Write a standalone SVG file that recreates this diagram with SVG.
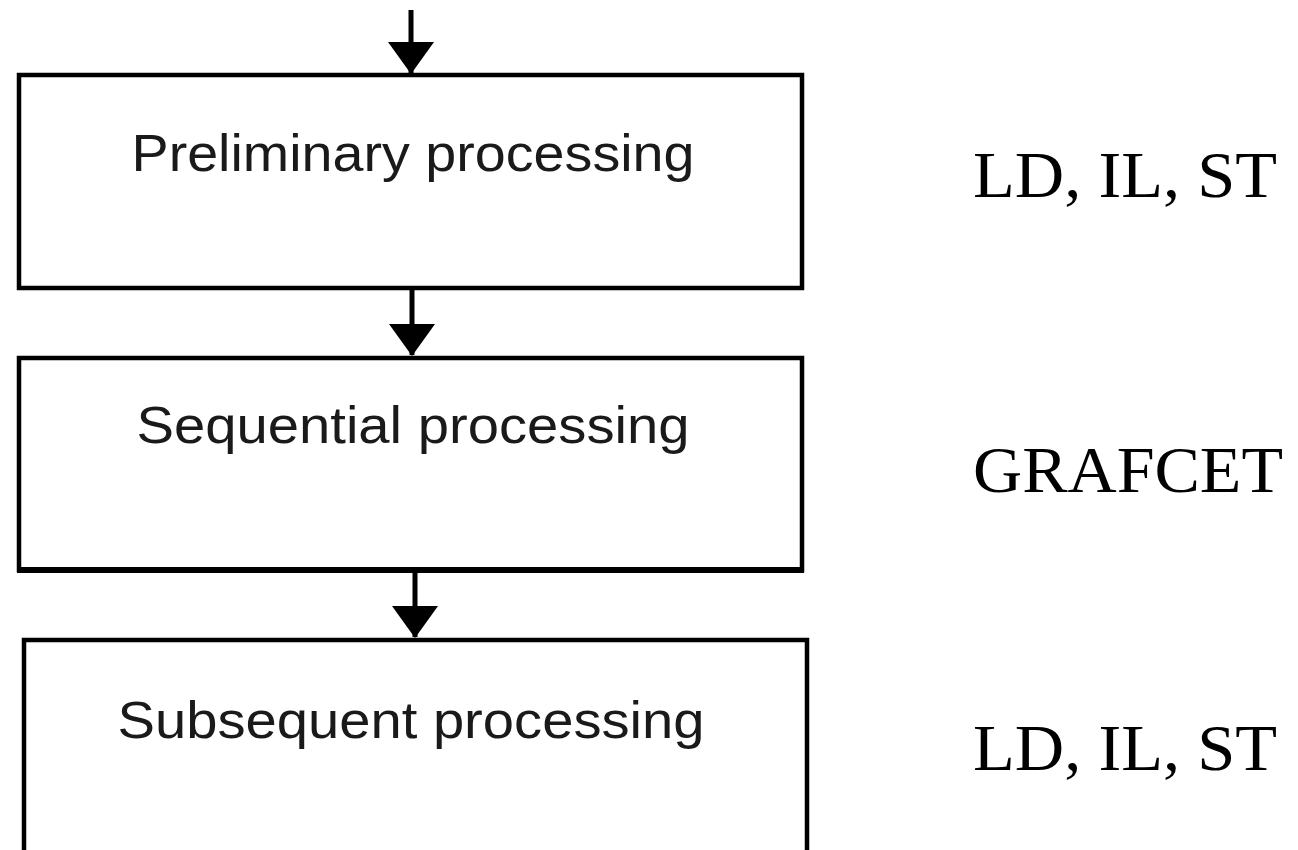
<svg xmlns="http://www.w3.org/2000/svg" width="1298" height="850" viewBox="0 0 1298 850">
<style>
.box{fill:#fff;stroke:#000;stroke-width:4.5}
.lbl{font-family:"Liberation Sans",Arial,sans-serif;font-size:52px;fill:#1a1a1a;text-anchor:middle}
.lang{font-family:"Liberation Serif","Times New Roman",serif;font-size:66px;fill:#000}
.con{stroke:#000;stroke-width:5;fill:none}
</style>
<defs>
<marker id="arr" markerUnits="userSpaceOnUse" markerWidth="32" markerHeight="46" refX="31" refY="23" orient="auto" viewBox="0 0 32 46">
<path d="M0,0 L32,23 L0,46 Z" fill="#000"/>
</marker>
</defs>
<rect width="1298" height="850" fill="#fff"/>
<g id="n1">
<rect class="box" x="19" y="75" width="783" height="213"/>
<text class="lbl" x="413" y="171" textLength="563" lengthAdjust="spacingAndGlyphs">Preliminary processing</text>
</g>
<g id="n2">
<rect class="box" x="19" y="358" width="783" height="212"/>
<path d="M17,570 H804" stroke="#000" stroke-width="6"/>
<text class="lbl" x="413" y="443" textLength="553" lengthAdjust="spacingAndGlyphs">Sequential processing</text>
</g>
<g id="n3">
<rect class="box" x="24" y="640" width="783" height="240"/>
<text class="lbl" x="411" y="738" textLength="587" lengthAdjust="spacingAndGlyphs">Subsequent processing</text>
</g>
<g id="labels">
<text class="lang" x="973" y="197" textLength="304" lengthAdjust="spacingAndGlyphs">LD, IL, ST</text>
<text class="lang" x="973" y="492" font-size="70" textLength="310" lengthAdjust="spacingAndGlyphs">GRAFCET</text>
<text class="lang" x="973" y="770" textLength="304" lengthAdjust="spacingAndGlyphs">LD, IL, ST</text>
</g>
<g id="connectors">
<line class="con" x1="411" y1="10" x2="411" y2="73" marker-end="url(#arr)"/>
<line class="con" x1="412" y1="290" x2="412" y2="355" marker-end="url(#arr)"/>
<line class="con" x1="415" y1="573" x2="415" y2="637" marker-end="url(#arr)"/>
</g>
</svg>
